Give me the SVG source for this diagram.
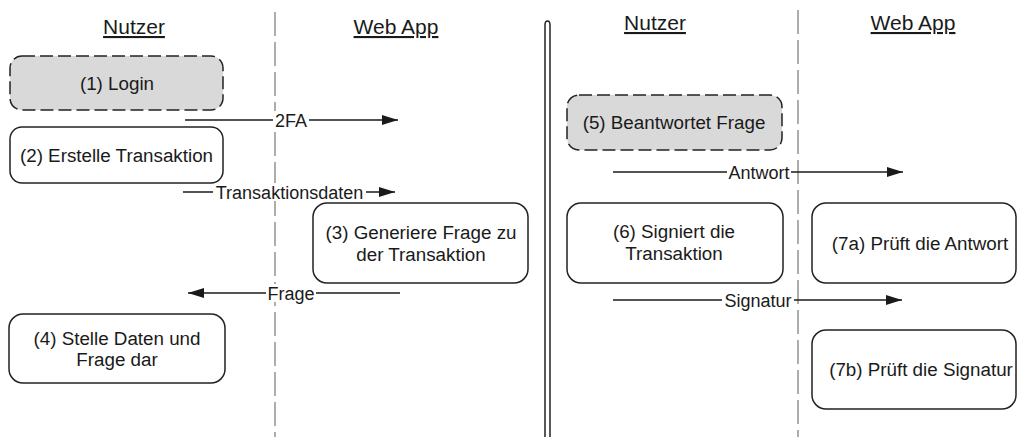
<svg xmlns="http://www.w3.org/2000/svg" width="1018" height="437" viewBox="0 0 1018 437">
<defs>
<style>
text{font-family:"Liberation Sans",Arial,sans-serif;fill:#1a1a1a;text-anchor:middle}
.hdr{font-size:21px;text-decoration:underline}
.nt{font-size:18.8px}
.lbl{font-size:18px}
.box{fill:#fff;stroke:#222;stroke-width:1.5}
.dbox{fill:#d9d9d9;stroke:#222;stroke-width:1.5;stroke-dasharray:13 5}
.lane{stroke:#8a8a8a;stroke-width:1.4;stroke-dasharray:24 6;fill:none}
.conn{stroke:#1a1a1a;stroke-width:1.4;fill:none}
.bg{fill:#fff}
</style>
<marker id="ah" viewBox="0 0 16 10" refX="16" refY="5" markerWidth="16" markerHeight="10" markerUnits="userSpaceOnUse" orient="auto">
<path d="M0,0 L16,5 L0,10 Z" fill="#1a1a1a"/>
</marker>
</defs>
<rect width="1018" height="437" fill="#fff"/>

<g id="lanes">
<line class="lane" x1="275" y1="12" x2="275" y2="437"/>
<line class="lane" x1="798" y1="10" x2="798" y2="437"/>
<path d="M545,437 V25 Q545,21 547.5,21 Q550,21 550,25 V437" fill="none" stroke="#222" stroke-width="1.5"/>
</g>

<g id="headers">
<text class="hdr" x="134" y="34">Nutzer</text>
<text class="hdr" x="396" y="34">Web App</text>
<text class="hdr" x="655" y="30">Nutzer</text>
<text class="hdr" x="913" y="30">Web App</text>
</g>

<g id="connectors">
<g id="c-2fa">
<line class="conn" x1="185" y1="120" x2="398" y2="120" marker-end="url(#ah)"/>
<rect class="bg" x="273" y="111" width="36" height="18"/>
<text class="lbl" x="291" y="126.5">2FA</text>
</g>
<g id="c-tdaten">
<line class="conn" x1="183" y1="192" x2="395" y2="192" marker-end="url(#ah)"/>
<rect class="bg" x="213" y="183" width="153" height="18"/>
<text class="lbl" x="289.5" y="198.5">Transaktionsdaten</text>
</g>
<g id="c-frage">
<line class="conn" x1="400" y1="293" x2="188" y2="293" marker-end="url(#ah)"/>
<rect class="bg" x="266" y="284" width="50" height="18"/>
<text class="lbl" x="291" y="299.5">Frage</text>
</g>
<g id="c-antwort">
<line class="conn" x1="613" y1="172" x2="903" y2="172" marker-end="url(#ah)"/>
<rect class="bg" x="727" y="163" width="64" height="18"/>
<text class="lbl" x="759" y="178.5">Antwort</text>
</g>
<g id="c-signatur">
<line class="conn" x1="613" y1="300" x2="902" y2="300" marker-end="url(#ah)"/>
<rect class="bg" x="722" y="291" width="72" height="18"/>
<text class="lbl" x="758" y="306.5">Signatur</text>
</g>
</g>

<g id="n1">
<rect class="dbox" x="10" y="56" width="213" height="54" rx="12"/>
<text class="nt" x="117" y="90">(1) Login</text>
</g>
<g id="n2">
<rect class="box" x="10" y="127" width="213" height="56" rx="12"/>
<text class="nt" x="116.5" y="162">(2) Erstelle Transaktion</text>
</g>
<g id="n3">
<rect class="box" x="313" y="203" width="215" height="80" rx="14"/>
<text class="nt" x="421" y="239">(3) Generiere Frage zu</text>
<text class="nt" x="421" y="261">der Transaktion</text>
</g>
<g id="n4">
<rect class="box" x="9" y="314" width="216" height="69" rx="14"/>
<text class="nt" x="117" y="345">(4) Stelle Daten und</text>
<text class="nt" x="117" y="366">Frage dar</text>
</g>
<g id="n5">
<rect class="dbox" x="567" y="95" width="215" height="55" rx="12"/>
<text class="nt" x="674" y="129">(5) Beantwortet Frage</text>
</g>
<g id="n6">
<rect class="box" x="567" y="203" width="216" height="80" rx="14"/>
<text class="nt" x="674" y="238">(6) Signiert die</text>
<text class="nt" x="674" y="260">Transaktion</text>
</g>
<g id="n7a">
<rect class="box" x="812" y="203" width="204" height="80" rx="14"/>
<text class="nt" x="920" y="250">(7a) Prüft die Antwort</text>
</g>
<g id="n7b">
<rect class="box" x="812" y="330" width="204" height="79" rx="14"/>
<text class="nt" x="921" y="376">(7b) Prüft die Signatur</text>
</g>
</svg>
